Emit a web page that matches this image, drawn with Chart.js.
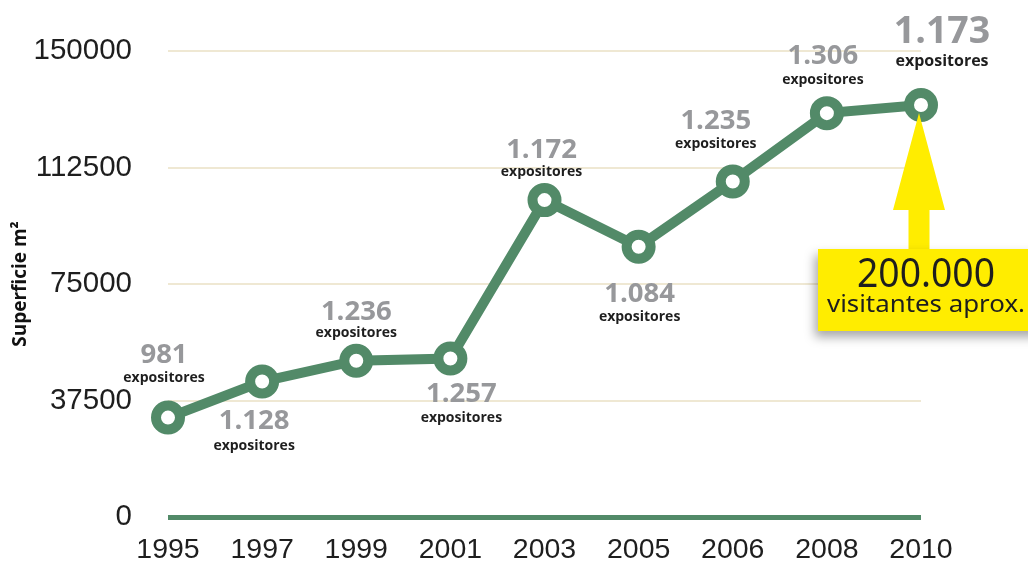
<!DOCTYPE html>
<html><head><meta charset="utf-8">
<script src="https://cdn.jsdelivr.net/npm/chart.js@4"></script>
<style>html,body{margin:0;padding:0;background:#fff}#wrap{width:1028px;height:565px}</style>
</head><body><div id="wrap"><canvas id="c" width="1028" height="565"></canvas></div>
<script>
// ---- data ----
const years = ['1995','1997','1999','2001','2003','2005','2006','2008','2010'];
const superficie = [32000, 43600, 50300, 51000, 102000, 87000, 108000, 130000, 132600];
const expositores = ['981','1.128','1.236','1.257','1.172','1.084','1.235','1.306','1.173'];
const yTicks = [0, 37500, 75000, 112500, 150000];
const visitantesNum = '200.000';
const visitantesTxt = 'visitantes aprox.';
const expoWord = 'expositores';

// ---- styling ----
const GREEN = '#528a68';
const GRID = '#efe8d3';
const GRAY = '#97989b';
const DARK = '#1e1e1e';
const YELLOW = '#ffed00';
// label placement per point: [dx, dyNumber, dyWord, numberSize, wordSize]
const labelLayout = [
  [-4, -62, -40, 27.5, 14],
  [-8, 40, 64, 27.5, 14],
  [0, -49, -28, 27.5, 14],
  [11, 36, 59, 27.5, 14],
  [-3, -50, -28, 27.5, 14],
  [1, 47, 70, 27.5, 14],
  [-17, -60, -37, 27.5, 14],
  [-4, -57, -33, 27.5, 14],
  [21, -73, -44, 37.5, 16]
];

function fitText(ctx, text, cx, baseline, targetW) {
  const w = ctx.measureText(text).width;
  const s = targetW / w;
  ctx.save();
  ctx.translate(cx, baseline);
  ctx.scale(s, 1);
  ctx.textAlign = 'center';
  ctx.textBaseline = 'alphabetic';
  ctx.fillText(text, 0, 0);
  ctx.restore();
}

const annot = {
  id: 'annot',
  afterDatasetsDraw(chart) {
    const ctx = chart.ctx;
    const pts = chart.getDatasetMeta(0).data;
    ctx.save();
    // labels
    pts.forEach((p, i) => {
      const [dx, dn, dw, ns, ws] = labelLayout[i];
      ctx.textAlign = 'center';
      ctx.textBaseline = 'middle';
      ctx.fillStyle = GRAY;
      ctx.font = `bold ${ns}px "Open Sans"`;
      ctx.fillText(expositores[i], p.x + dx, p.y + dn);
      ctx.fillStyle = DARK;
      ctx.font = `bold ${ws}px "Open Sans"`;
      ctx.fillText(expoWord, p.x + dx, p.y + dw);
    });
    // arrow to last point
    const last = pts[pts.length - 1];
    const tx = last.x - 2, ty = last.y + 8;
    const headY = last.y + 105;
    const boxTop = 249;
    ctx.fillStyle = YELLOW;
    ctx.beginPath();
    ctx.moveTo(tx, ty);
    ctx.lineTo(tx + 26, headY);
    ctx.lineTo(tx + 10.5, headY);
    ctx.lineTo(tx + 10.5, boxTop + 2);
    ctx.lineTo(tx - 10.5, boxTop + 2);
    ctx.lineTo(tx - 10.5, headY);
    ctx.lineTo(tx - 26, headY);
    ctx.closePath();
    ctx.fill();
    // box with shadow
    ctx.save();
    ctx.shadowColor = 'rgba(0,0,0,0.35)';
    ctx.shadowBlur = 10;
    ctx.shadowOffsetX = -3;
    ctx.shadowOffsetY = 6;
    ctx.fillStyle = YELLOW;
    ctx.fillRect(818, boxTop, 230, 82);
    ctx.restore();
    ctx.fillStyle = DARK;
    ctx.font = '40px "Noto Sans"';
    fitText(ctx, visitantesNum, 926, 287, 138);
    ctx.font = '24px "Noto Sans"';
    fitText(ctx, visitantesTxt, 926, 312, 198);
    ctx.restore();
  }
};

new Chart(document.getElementById('c'), {
  type: 'line',
  data: {
    labels: years,
    datasets: [{
      data: superficie,
      borderColor: GREEN,
      borderWidth: 10,
      pointRadius: 12,
      pointHoverRadius: 12,
      pointBorderWidth: 10,
      pointBackgroundColor: '#fff',
      pointBorderColor: GREEN,
      tension: 0,
      clip: false,
      fill: false
    }]
  },
  options: {
    responsive: false,
    animation: false,
    layout: { padding: { left: 0, right: 1028 - 921, top: 51, bottom: 0 } },
    plugins: { legend: { display: false }, tooltip: { enabled: false } },
    scales: {
      x: {
        offset: false,
        grid: { display: false, drawTicks: false },
        border: { display: false },
        ticks: { color: DARK, font: { family: 'Liberation Sans', size: 28.5 }, padding: 16, maxRotation: 0, autoSkip: false },
        afterFit(s) { s.height = 48; s.paddingLeft = 0; s.paddingRight = 0; }
      },
      y: {
        min: 0, max: 150000,
        afterBuildTicks(s) { s.ticks = yTicks.map(v => ({ value: v })); },
        grid: {
          drawTicks: false,
          color: c => (c.tick && c.tick.value === 0) ? GREEN : GRID,
          lineWidth: c => (c.tick && c.tick.value === 0) ? 5 : 2
        },
        border: { display: false },
        ticks: { color: DARK, font: { family: 'Liberation Sans', size: 29.5 }, padding: 36, callback: v => String(v) },
        title: { display: true, text: 'Superficie m²', color: '#111', font: { family: 'Open Sans', weight: 'bold', size: 19 }, padding: { top: 9, bottom: 0 } },
        afterFit(s) { s.width = 168; s.paddingTop = 0; s.paddingBottom = 0; }
      }
    }
  },
  plugins: [annot]
});
</script>
</body></html>
